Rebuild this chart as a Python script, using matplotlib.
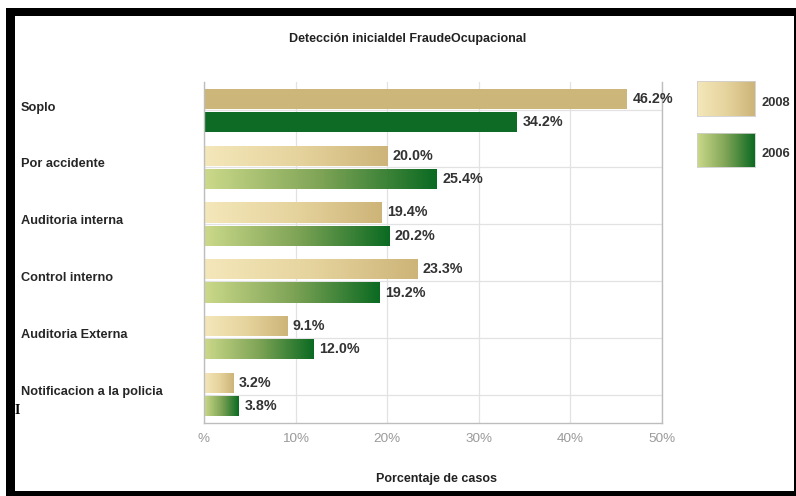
import numpy as np
import matplotlib
matplotlib.use("Agg")
import matplotlib.pyplot as plt
from matplotlib.colors import LinearSegmentedColormap
from matplotlib.patches import Rectangle
from matplotlib.transforms import blended_transform_factory

plt.rcParams['font.family'] = ['Liberation Sans', 'DejaVu Sans']

categories = ["Soplo", "Por accidente", "Auditoria interna", "Control interno",
              "Auditoria Externa", "Notificacion a la policia"]
values_2008 = [46.2, 20.0, 19.4, 23.3, 9.1, 3.2]
values_2006 = [34.2, 25.4, 20.2, 19.2, 12.0, 3.8]
series_labels = ["2008", "2006"]
xticks = [0, 10, 20, 30, 40, 50]
xtick_labels = ["%", "10%", "20%", "30%", "40%", "50%"]
title = "Detección inicialdel FraudeOcupacional"
xlabel = "Porcentaje de casos"

W, H = 796, 496
fig = plt.figure(figsize=(W / 100, H / 100), dpi=100)
fig.patch.set_facecolor("white")

def fx(px):
    return px / W

def fy(py):
    return 1 - py / H

cmap08 = LinearSegmentedColormap.from_list("c08", ["#F4E7BA", "#E6D49E", "#CDB478"])
cmap06 = LinearSegmentedColormap.from_list("c06", ["#CCD98A", "#7FA456", "#0B6A22"])
solid08 = "#CCB679"
solid06 = "#0E6B26"

ax = fig.add_axes([fx(204), fy(423), fx(662) - fx(204), fy(82) - fy(423)])
y = np.arange(len(categories))
bh = 0.355
off = 0.205

grad = np.linspace(0, 1, 256).reshape(1, -1)

def draw_bars(vals, offset, cmap, solid):
    bars = ax.barh(y + offset, vals, height=bh, color="none", edgecolor="none")
    for i, b in enumerate(bars):
        x0, y0 = b.get_x(), b.get_y()
        w, h = b.get_width(), b.get_height()
        if i == 0:
            ax.add_patch(Rectangle((x0, y0), w, h, facecolor=solid, edgecolor="none", zorder=2))
        else:
            im = ax.imshow(grad, cmap=cmap, aspect="auto",
                           extent=[x0, x0 + w, y0 + h, y0], zorder=2,
                           interpolation="bilinear")
            im.set_clip_path(b)
        ax.text(x0 + w + 0.6, y0 + h / 2, f"{w:.1f}%", va="center", ha="left",
                fontsize=10.3, fontweight="bold", color="#333333", zorder=3)
    return bars

draw_bars(values_2008, -off, cmap08, solid08)
draw_bars(values_2006, off, cmap06, solid06)

ax.set_xlim(0, 50)
ax.set_ylim(len(categories) - 0.5, -0.5)
ax.set_xticks(xticks)
ax.set_xticklabels(xtick_labels, fontsize=9.7, color="#9A9A9A")
ax.set_yticks(y)
ax.set_yticklabels([])
ax.tick_params(axis="both", length=0, pad=7)
ax.grid(True, color="#E2E2E2", linewidth=0.9, zorder=0)
ax.set_axisbelow(True)
ax.spines["top"].set_visible(False)
for s in ["left", "right", "bottom"]:
    ax.spines[s].set_color("#BDBDBD")
    ax.spines[s].set_linewidth(1.0)

# category labels
tr = blended_transform_factory(fig.transFigure, ax.transData)
for i, c in enumerate(categories):
    ax.text(fx(21), i - 0.05, c, transform=tr, fontsize=9.2, fontweight="bold",
            color="#262626", ha="left", va="center")

fig.text(fx(408), fy(39), title, fontsize=9, fontweight="bold", color="#222222",
         ha="center", va="center")
fig.text(fx(437), fy(479), xlabel, fontsize=9, fontweight="bold", color="#222222",
         ha="center", va="center")

# legend swatches
leg = [(series_labels[0], cmap08, 81, 116), (series_labels[1], cmap06, 133, 167)]
for lab, cm, top, bot in leg:
    lax = fig.add_axes([fx(697), fy(bot), fx(755) - fx(697), fy(top) - fy(bot)])
    lax.imshow(grad, cmap=cm, aspect="auto", interpolation="bilinear")
    lax.set_xticks([]); lax.set_yticks([])
    for s in lax.spines.values():
        s.set_color("#CFCFCF"); s.set_linewidth(0.6)
    fig.text(fx(762), fy((top + bot) / 2 + 4), lab, fontsize=9.3, fontweight="bold",
             color="#333333", ha="left", va="center")

# frame (black border of the screenshot)
def rect(x0, y0, x1, y1, color="black"):
    fig.patches.append(Rectangle((fx(x0), fy(y1)), fx(x1) - fx(x0), fy(y0) - fy(y1),
                                 transform=fig.transFigure, facecolor=color,
                                 edgecolor="none", zorder=10))

rect(6, 8, 796, 16)
rect(6, 8, 15, 496)
rect(6, 491, 796, 496)
rect(794, 8, 796, 496)

fig.text(fx(17), fy(410), "I", fontsize=10, fontweight="bold", color="black",
         family=["Liberation Serif", "DejaVu Serif"], ha="center", va="center")

fig.savefig("out.png", dpi=100, facecolor="white")
